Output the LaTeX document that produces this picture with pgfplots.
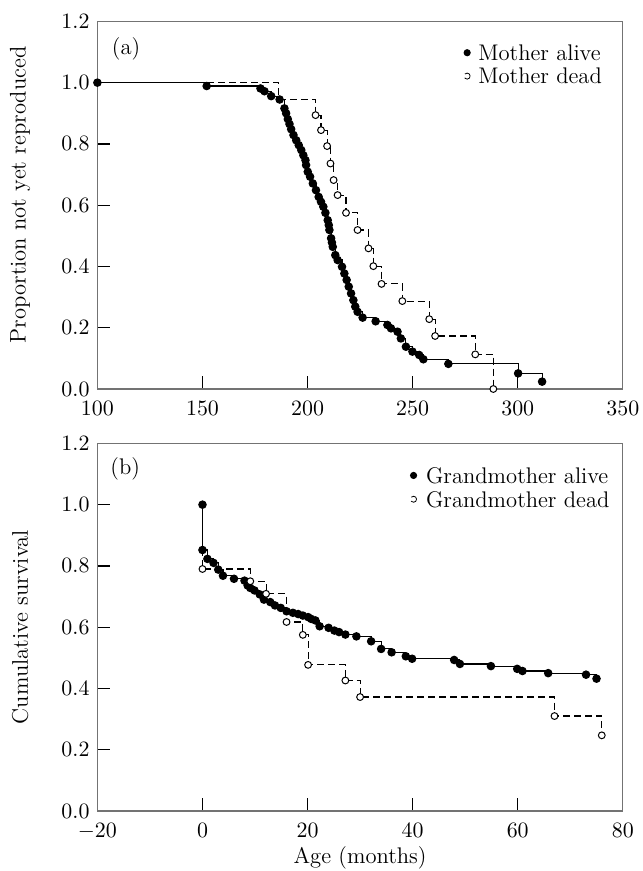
\documentclass[border=0pt]{standalone}
\usepackage{pgfplots}
\pgfplotsset{compat=1.18}

\pgfplotsset{
  km/.style={
    scale only axis, width=262.7pt, height=183.8pt,
    ymin=0, ymax=1.2, ytick={0,0.2,...,1.2},
    yticklabel style={/pgf/number format/.cd, fixed, fixed zerofill, precision=1},
    xticklabel style={yshift=-2.4pt},
    tick align=inside, tick pos=left, major tick length=6.5pt,
    axis line style={line width=0.6pt, black!55},
    tick style={line width=0.6pt, black},
    clip=false,
    legend cell align=left,
  },
  alive/.style={black, line width=0.55pt, const plot, mark=*, mark size=1.85pt,
    mark options={solid, fill=black}},
  dead/.style={black, line width=0.55pt, const plot, dash pattern=on 3.5pt off 2pt,
    mark=*, mark size=1.7pt, mark options={solid, fill=white, line width=0.5pt}},
}

\begin{document}
\fontsize{11.3}{13.5}\selectfont
\begin{tikzpicture}
\useasboundingbox (-48.7pt,-30pt) rectangle (272.3pt,405.5pt);

% (a) age at first reproduction
\begin{axis}[km, at={(0,211pt)},
  xmin=100, xmax=350, xtick={100,150,...,350},
  ylabel={Proportion not yet reproduced},
  ylabel style={at={(axis description cs:-0.147,0.528)}, anchor=center},
  legend style={draw=none, fill=none, inner sep=0pt, outer sep=0pt,
    at={(axis description cs:0.697,0.936)}, anchor=north west,
    row sep=3.9pt, column sep=3.8pt,
    nodes={inner sep=0pt, text height=7.8pt, text depth=0pt}},
]
\addplot[alive, legend image code/.code={\fill[black] (0pt,0pt) circle (1.5pt);}] coordinates {
  (100,1.0) (152,0.989) (177.6,0.981) (179.5,0.972) (182.7,0.956) (186.7,0.945)
  (189,0.916) (189.8,0.9) (190.6,0.881) (191.4,0.865) (192.2,0.848) (193.3,0.829)
  (194.6,0.812) (195.8,0.796) (197,0.780) (198,0.763) (199,0.747) (199.3,0.731)
  (200.1,0.709) (201.2,0.693) (202.5,0.671) (204,0.649) (205.3,0.627) (206.4,0.611)
  (207.5,0.595) (208.5,0.575) (209.6,0.551) (210.1,0.535) (210.4,0.519) (211.2,0.492)
  (211.6,0.478) (212,0.464) (213.2,0.437) (214.3,0.421) (216.4,0.399) (217.5,0.377)
  (218.6,0.356) (219.6,0.334) (220.7,0.312) (221.8,0.290) (222.7,0.269) (223.8,0.252)
  (226.2,0.233) (232.4,0.221) (238,0.209) (239.7,0.198) (242.8,0.187) (244.4,0.165)
  (246.8,0.138) (249.9,0.122) (253.1,0.111) (255.1,0.097) (267,0.082) (300.2,0.051)
  (311.6,0.024)
};
\addlegendentry{Mother alive}
\addplot[dead, mark indices={3,4,...,18},
  legend image code/.code={\draw[black, line width=0.4pt, fill=white] (0pt,0pt) circle (1.5pt);}]
  coordinates {
  (100,1.0) (186.3,0.946) (203.8,0.894) (206.4,0.845) (209.3,0.793) (210.9,0.736)
  (212.4,0.682) (214.3,0.633) (218.3,0.575) (223.8,0.519) (229,0.459) (231.3,0.401)
  (235.2,0.343) (245.1,0.287) (257.9,0.228) (260.7,0.173) (279.8,0.113) (288.4,0.0)
};
\addlegendentry{Mother dead}
\node[anchor=north west, inner sep=0pt] at (axis description cs:0.027,0.958) {(a)};
\end{axis}

% (b) survival
\begin{axis}[km, at={(0,0)},
  xmin=-20, xmax=80, xtick={-20,0,...,80},
  xlabel={Age (months)},
  xlabel style={at={(axis description cs:0.5,0)}, anchor=center, yshift=-23.5pt},
  ylabel={Cumulative survival},
  ylabel style={at={(axis description cs:-0.147,0.5)}, anchor=center},
  legend style={draw=none, fill=none, inner sep=0pt, outer sep=0pt,
    at={(axis description cs:0.595,0.934)}, anchor=north west,
    row sep=4.1pt, column sep=4.5pt,
    nodes={inner sep=0pt, text height=7.8pt, text depth=0pt}},
]
\addplot[alive, legend image code/.code={\fill[black] (0pt,0pt) circle (1.5pt);}] coordinates {
  (0,1.0) (0,0.852) (0.94,0.823) (2.1,0.810) (3,0.788) (3.9,0.768) (6,0.758) (8,0.752)
  (8.6,0.736) (9.1,0.728) (9.9,0.72) (10.9,0.707) (11.7,0.69) (12.9,0.682) (13.8,0.671)
  (14.9,0.663) (16,0.652) (17.2,0.647) (18.2,0.643) (19.1,0.638) (20.1,0.633)
  (20.7,0.627) (21.5,0.622) (22.3,0.603) (24,0.598) (25.1,0.589) (26,0.584)
  (27.2,0.576) (29.3,0.570) (32.1,0.554) (34,0.529) (36,0.518) (38.7,0.505)
  (39.9,0.497) (47.9,0.493) (49,0.480) (54.9,0.473) (59.9,0.464) (60.9,0.457)
  (65.8,0.45) (73,0.445) (75,0.432)
};
\addlegendentry{Grandmother alive}
\addplot[dead, mark indices={2,3,...,11},
  legend image code/.code={\draw[black, line width=0.4pt, fill=white] (0pt,0pt) circle (1.5pt);}]
  coordinates {
  (0,1.0) (0,0.790) (9.1,0.75) (12.1,0.709) (16,0.617) (19.1,0.575) (20.1,0.477)
  (27.2,0.426) (30,0.372) (67,0.310) (76,0.247)
};
\addlegendentry{Grandmother dead}
\node[anchor=north west, inner sep=0pt] at (axis description cs:0.024,0.962) {(b)};
\end{axis}
\end{tikzpicture}
\end{document}
